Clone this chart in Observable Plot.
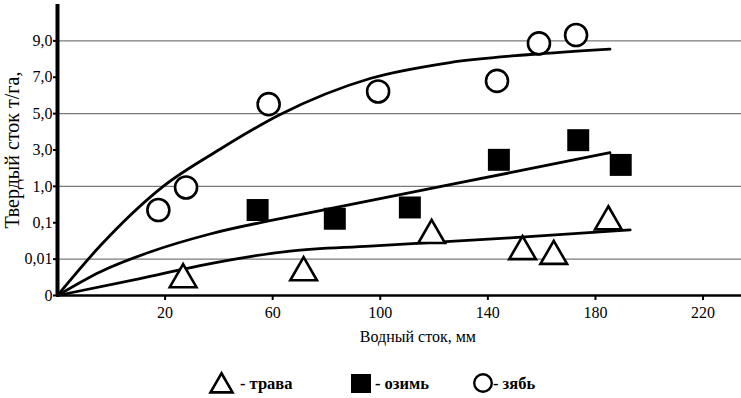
<!DOCTYPE html>
<html><head><meta charset="utf-8">
<script src="https://cdn.jsdelivr.net/npm/d3@7"></script>
<script src="https://cdn.jsdelivr.net/npm/@observablehq/plot@0.6"></script>
<style>
body{margin:0;background:#fff;}
#wrap{width:741px;height:398px;background:#fff;font-family:"Liberation Serif","Times New Roman",serif;color:#000;}
</style></head><body><div id="wrap"></div>
<script>
// ---- data ----
const seriesNames = ["трава", "озимь", "зябь"];
const xTicks = [20, 60, 100, 140, 180, 220];
const yTicks = [0, 0.01, 0.1, 1, 3, 5, 7, 9];
const yTickLabels = ["0", "0,01", "0,1", "1,0", "3,0", "5,0", "7,0", "9,0"];
const yBreaks = [0, 0.01, 0.1, 1, 3, 5, 7, 9, 11];
const gridValues = [0.01, 1, 5, 9];

// points
const travaX = [26.7, 71.5, 119.1, 152.9, 164.5, 184.8];
const travaY = [0.0044, 0.0063, 0.069, 0.029, 0.0172, 0.127];
const ozimX = [54.4, 83.1, 111.0, 144.1, 173.6, 189.4];
const ozimY = [0.415, 0.199, 0.478, 2.46, 3.54, 2.18];
const zyabX = [17.5, 27.8, 58.5, 99.2, 143.4, 159.0, 172.8];
const zyabY = [0.415, 0.973, 5.52, 6.22, 6.80, 8.86, 9.32];

// fitted curves
const travaCurveX = [-20, 10.7, 33.0, 51.6, 66.5, 96.2, 148.3, 192.9];
const travaCurveY = [0, 0.00467, 0.00823, 0.0164, 0.0300, 0.0423, 0.0626, 0.0823];
const ozimCurveX = [-20, -4.2, 14.4, 36.7, 62.8, 81.3, 111.1, 148.3, 185.4];
const ozimCurveY = [0, 0.00648, 0.0277, 0.0722, 0.203, 0.449, 0.845, 1.75, 2.85];
const zyabCurveX = [-20, -4.2, 19.3, 40.4, 62.8, 96.2, 125.9, 155.7, 185.4];
const zyabCurveY = [0, 0.0423, 1.0, 3.04, 4.95, 6.93, 7.81, 8.25, 8.55];

const xTitle = "Водный сток, мм";
const yTitle = "Твердый сток т/га,";

// ---- piecewise (broken) value axis: each labelled step is one equal band ----
const band = d3.scaleLinear().domain(yBreaks).range(yBreaks.map((_, i) => i));

const toRows = (xs, ys, s) => xs.map((x, i) => ({x, y: band(ys[i]), s}));
const trava = toRows(travaX, travaY, seriesNames[0]);
const ozim = toRows(ozimX, ozimY, seriesNames[1]);
const zyab = toRows(zyabX, zyabY, seriesNames[2]);
const curves = [
  ...toRows(travaCurveX, travaCurveY, seriesNames[0]),
  ...toRows(ozimCurveX, ozimCurveY, seriesNames[1]),
  ...toRows(zyabCurveX, zyabCurveY, seriesNames[2])
];
const tickPos = yTicks.map(band);
const labelMap = new Map(tickPos.map((t, i) => [t, yTickLabels[i]]));
const font = '"Liberation Serif","Times New Roman",serif';

const plot = Plot.plot({
  width: 741, height: 350,
  marginLeft: 57, marginRight: 0, marginTop: 4, marginBottom: 55,
  style: {fontFamily: font, fontSize: "16px", color: "#000", background: "#fff", overflow: "visible"},
  x: {domain: [-20, 234.3]},
  y: {domain: [0, band(11)]},
  marks: [
    Plot.ruleY(gridValues.map(band), {stroke: "#7a7a7a", strokeWidth: 1.2}),
    Plot.axisX({ticks: xTicks, tickSize: 5, tickPadding: 6, fontSize: 16, label: null, strokeWidth: 2}),
    Plot.axisY({ticks: tickPos, tickFormat: d => labelMap.get(d), tickSize: 4, tickPadding: 1, fontSize: 16,
      label: null, strokeWidth: 2}),
    Plot.ruleY([0], {stroke: "#000", strokeWidth: 2.6}),
    Plot.ruleX([-20], {y1: 0, y2: band(11), stroke: "#000", strokeWidth: 4}),
    Plot.line(curves, {x: "x", y: "y", z: "s", curve: "monotone-x", stroke: "#000", strokeWidth: 2.8}),
    Plot.dot(trava, {x: "x", y: "y", symbol: "triangle", r: 9.9, fill: "#fff", stroke: "#000", strokeWidth: 2.6}),
    Plot.dot(ozim, {x: "x", y: "y", symbol: "square", r: 12.4, fill: "#000", stroke: "none"}),
    Plot.dot(zyab, {x: "x", y: "y", symbol: "circle", r: 11, fill: "#fff", stroke: "#000", strokeWidth: 2.6}),
    Plot.text([xTitle], {x: 114, frameAnchor: "bottom", dy: 46, fontSize: 16, fill: "#000"}),
    Plot.text([yTitle], {frameAnchor: "left", textAnchor: "middle", dx: -45, rotate: -90, fontSize: 20, fill: "#000"})
  ]
});
const wrap = document.getElementById("wrap");
wrap.appendChild(plot);

// ---- legend below the chart ----
const leg = d3.select(wrap).append("svg").attr("width", 741).attr("height", 48).style("display", "block");
leg.append("path").attr("d", d3.symbol(d3.symbolTriangle, Math.PI * 8.2 * 8.2)())
  .attr("transform", "translate(221.5,36)").attr("fill", "#fff").attr("stroke", "#000").attr("stroke-width", 2.6);
leg.append("text").attr("x", 240).attr("y", 39).text("- " + seriesNames[0]);
leg.append("rect").attr("x", 351).attr("y", 24).attr("width", 20).attr("height", 19).attr("fill", "#000");
leg.append("text").attr("x", 375).attr("y", 39).text("- " + seriesNames[1]);
leg.append("circle").attr("cx", 483).attr("cy", 33).attr("r", 8.8).attr("fill", "#fff").attr("stroke", "#000").attr("stroke-width", 2.4);
leg.append("text").attr("x", 493).attr("y", 39).text("- " + seriesNames[2]);
leg.selectAll("text").attr("font-family", font).attr("font-size", 16.5).attr("font-weight", "bold").attr("fill", "#000");
</script></body></html>
